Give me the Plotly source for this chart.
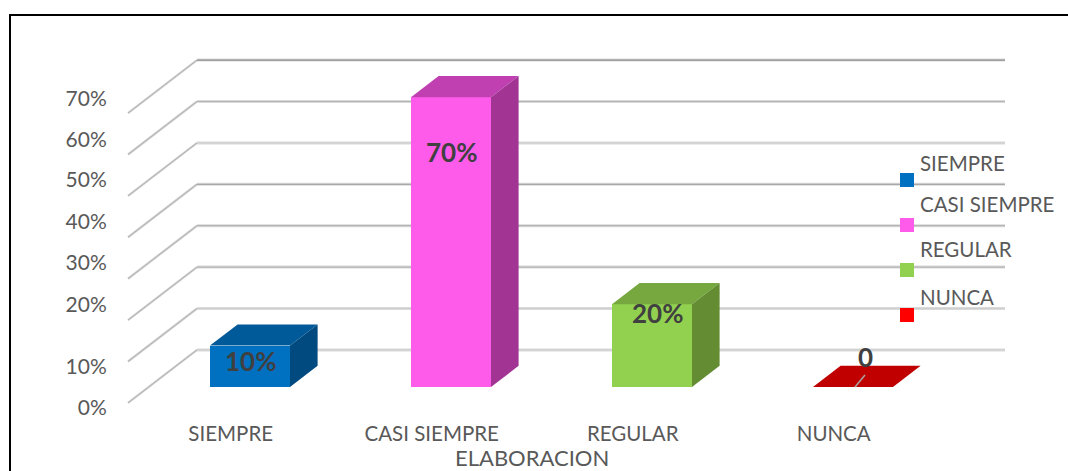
import plotly.graph_objects as go

categories = ["SIEMPRE", "CASI SIEMPRE", "REGULAR", "NUNCA"]
values = [10, 70, 20, 0]
data_labels = ["10%", "70%", "20%", "0"]
y_tick_labels = ["0%", "10%", "20%", "30%", "40%", "50%", "60%", "70%"]
grid_values = [0, 10, 20, 30, 40, 50, 60, 70]
grid_core_colors = ["#CFCFCF", "#CFCFCF", "#B4B4B4", "#B4B4B4", "#A8A8A8", "#CFCFCF", "#B4B4B4", "#8C8C8C"]
front_colors = ["#0070C0", "#FF5BEB", "#92D050", "#FF0000"]
top_colors = ["#005A9A", "#C040B2", "#76A83F", "#C00000"]
side_colors = ["#004A80", "#A23594", "#648C32", "#A00000"]
legend_colors = ["#0070C0", "#FF5BEB", "#92D050", "#FF0000"]

# layout
W, H = 1068, 471
L, R, T, B = 112, 0, 15, 56
PX_X0, PX_PER_X = 250.0, 201.0      # pixel of category 0, pixels per category
PX_Y0, PX_PER_Y = 387.0, 4.14       # pixel of value 0, pixels per percent
DEPTH_X = 69 / PX_PER_X             # full floor depth, in x units
DEPTH_Y = 53 / PX_PER_Y             # full floor depth, in y units
BASE_T = 0.3                        # depth of bars' front plane
BAR_DEPTH = 0.4
BAR_W = 80 / PX_PER_X
GRAY = "#595959"
FONT = "Lato"


def proj(x, v, t):
    return x + (t - BASE_T) * DEPTH_X, v + (t - BASE_T) * DEPTH_Y


def xpx(p):
    return (p - PX_X0) / PX_PER_X


def ypx(p):
    return (PX_Y0 - p) / PX_PER_Y


fig = go.Figure()
xs = list(range(len(categories)))

fig.add_trace(go.Bar(x=xs, y=values, width=BAR_W, marker=dict(color=front_colors, line=dict(width=0)),
                     showlegend=False, hoverinfo="skip"))

for i, v in enumerate(values):
    x0, x1 = i - BAR_W / 2, i + BAR_W / 2
    t0, t1 = BASE_T, BASE_T + BAR_DEPTH
    top = [proj(x0, v, t0), proj(x1, v, t0), proj(x1, v, t1), proj(x0, v, t1), proj(x0, v, t0)]
    fig.add_trace(go.Scatter(x=[p[0] for p in top], y=[p[1] for p in top], mode="lines", fill="toself",
                             fillcolor=top_colors[i], line=dict(width=0), showlegend=False, hoverinfo="skip"))
    if v > 0:
        side = [proj(x1, 0, t0), proj(x1, v, t0), proj(x1, v, t1), proj(x1, 0, t1), proj(x1, 0, t0)]
        fig.add_trace(go.Scatter(x=[p[0] for p in side], y=[p[1] for p in side], mode="lines", fill="toself",
                                 fillcolor=side_colors[i], line=dict(width=0), showlegend=False, hoverinfo="skip"))

# leader line of the zero label
fig.add_trace(go.Scatter(x=[xpx(855), xpx(865)], y=[ypx(387), ypx(375)], mode="lines",
                         line=dict(color="#A6A6A6", width=1.5), showlegend=False, hoverinfo="skip"))

# legend swatches
legend_px_y = [180, 225, 270, 315]
for c, py, name in zip(legend_colors, legend_px_y, categories):
    fig.add_trace(go.Scatter(x=[xpx(907)], y=[ypx(py)], mode="markers", name=name,
                             marker=dict(symbol="square", size=14, color=c, line=dict(width=0)),
                             showlegend=False, hoverinfo="skip"))

# grid: side wall + back wall, from the tick values
shapes = []
right_t1 = xpx(1005)
wall_x = xpx(128) + BASE_T * DEPTH_X
for v, core in zip(grid_values, grid_core_colors):
    a = proj(wall_x, v, 0)
    b = proj(wall_x, v, 1)
    diag = f"M {a[0]},{a[1]} L {b[0]},{b[1]}"
    back = f"M {b[0]},{b[1]} L {right_t1},{b[1]}"
    shapes.append(dict(type="path", path=diag, xref="x", yref="y", layer="below",
                       line=dict(color="#D4D4D4", width=2.4)))
    shapes.append(dict(type="path", path=diag, xref="x", yref="y", layer="below",
                       line=dict(color="#B0B0B0", width=1)))
    shapes.append(dict(type="path", path=back, xref="x", yref="y", layer="below",
                       line=dict(color="#DADADA", width=3)))
    shapes.append(dict(type="path", path=back, xref="x", yref="y", layer="below",
                       line=dict(color=core, width=1.2)))

# outer frame
px_l = (10 - L) / (W - L - R)
py_t = 1.0
py_b = -B / (H - T - B)
shapes.append(dict(type="path", xref="paper", yref="paper", layer="above",
                   path=f"M {px_l},{py_b} L {px_l},{py_t} L {1.0},{py_t}",
                   line=dict(color="#000000", width=2)))

annotations = []
label_px = [(250, 361), (451, 152), (657, 313), (865, 357)]
for txt, (px, py) in zip(data_labels, label_px):
    annotations.append(dict(x=xpx(px), y=ypx(py), text=f"<b>{txt}</b>", showarrow=False,
                            font=dict(family=FONT, size=26, color="#404040"),
                            xanchor="center", yanchor="middle"))
legend_text_y = [163, 204, 249, 297]
for name, py in zip(categories, legend_text_y):
    annotations.append(dict(x=xpx(921), y=ypx(py), text=name, showarrow=False,
                            font=dict(family=FONT, size=20.5, color=GRAY),
                            xanchor="left", yanchor="middle", xshift=-3))
annotations.append(dict(xref="paper", yref="paper", x=(532 - L) / (W - L - R),
                        y=(H - B - 457) / (H - T - B), text="ELABORACION", showarrow=False,
                        font=dict(family=FONT, size=22, color=GRAY),
                        xanchor="center", yanchor="middle"))

y_tick_pos = [-5.1, 4.9, 19.8, 30, 39.9, 50, 59.7, 69.6]

fig.update_layout(
    width=W, height=H, margin=dict(l=L, r=R, t=T, b=B, pad=0),
    paper_bgcolor="white", plot_bgcolor="white", shapes=shapes, annotations=annotations,
    bargap=0, showlegend=False,
    xaxis=dict(range=[xpx(L), xpx(W - R)], tickmode="array",
               tickvals=[i - BASE_T * DEPTH_X + 0.007 for i in xs], ticktext=categories,
               showgrid=False, zeroline=False, showline=False, ticks="outside", ticklen=0,
               tickcolor="rgba(0,0,0,0)", tickfont=dict(family=FONT, size=20.5, color=GRAY)),
    yaxis=dict(range=[ypx(H - B), ypx(T)], tickmode="array", tickvals=y_tick_pos, ticktext=y_tick_labels,
               showgrid=False, zeroline=False, showline=False, ticks="outside", ticklen=0,
               tickcolor="rgba(0,0,0,0)", tickfont=dict(family=FONT, size=21, color=GRAY)),
)

fig.write_html("out.html", config={"displayModeBar": False},
               post_script="document.body.style.margin='0';document.documentElement.style.overflow='hidden';")
